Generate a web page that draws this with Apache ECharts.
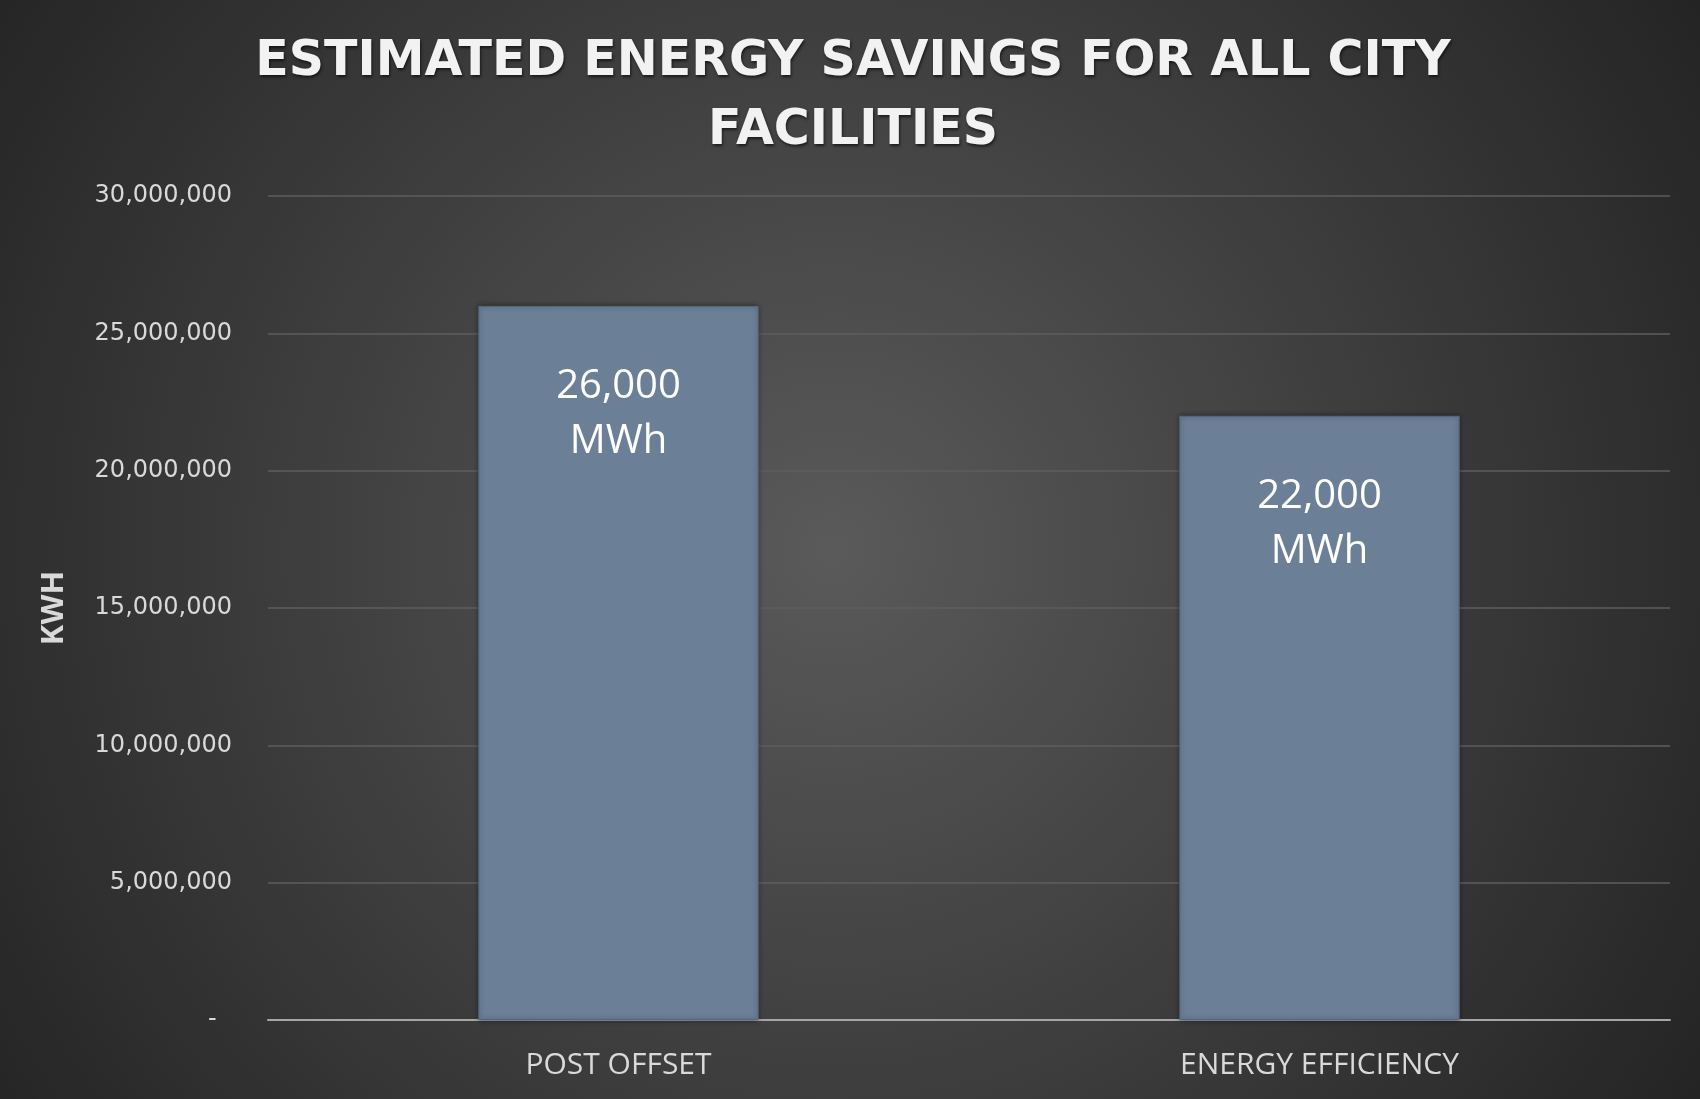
<!DOCTYPE html>
<html>
<head>
<meta charset="utf-8">
<script src="https://cdn.jsdelivr.net/npm/echarts@6/dist/echarts.min.js"></script>
<style>
  html, body { margin: 0; padding: 0; background: #2a2a2a; }
  #chart { width: 1700px; height: 1099px; }
</style>
</head>
<body>
<div id="chart"></div>
<script>
// Annual savings, in kWh
const categories = ['POST OFFSET', 'ENERGY EFFICIENCY'];
const savingsKwh = [26000000, 22000000];
const yTicks = { min: 0, max: 30000000, interval: 5000000 };

const chart = echarts.init(document.getElementById('chart'), null, { renderer: 'canvas' });

// zero is shown as a dash, accounting style
const fmtTick = v => (v === 0 ? '-  ' : v.toLocaleString('en-US'));
const fmtBar = v => (v / 1000).toLocaleString('en-US') + '\nMWh';

chart.setOption({
  animation: false,
  backgroundColor: {
    type: 'radial', x: 0.49, y: 0.5, r: 0.95,
    colorStops: [
      { offset: 0, color: '#5a5a5a' },
      { offset: 1, color: '#232323' }
    ]
  },
  title: {
    text: 'ESTIMATED ENERGY SAVINGS FOR ALL CITY\nFACILITIES',
    left: 848, top: 23, textAlign: 'center',
    textStyle: {
      fontFamily: 'DejaVu Sans', fontWeight: 'bold', fontSize: 49,
      color: '#f2f2f2', lineHeight: 69,
      textShadowColor: 'rgba(0,0,0,0.6)', textShadowBlur: 3, textShadowOffsetX: 1, textShadowOffsetY: 2
    }
  },
  grid: { left: 268, right: 30, top: 196, bottom: 79, containLabel: false },
  xAxis: {
    type: 'category',
    data: categories,
    axisLine: { show: true, lineStyle: { color: '#a6a6a6', width: 2 } },
    axisTick: { show: false },
    axisLabel: { color: '#d9d9d9', fontFamily: 'Open Sans', fontSize: 30, margin: 30 }
  },
  yAxis: {
    type: 'value',
    min: yTicks.min, max: yTicks.max, interval: yTicks.interval,
    name: 'KWH',
    nameLocation: 'middle',
    nameGap: 198,
    nameRotate: 90,
    nameTextStyle: { color: '#d9d9d9', fontFamily: 'Open Sans', fontWeight: 'bold', fontSize: 31 },
    axisLine: { show: false },
    axisTick: { show: false },
    axisLabel: { color: '#d9d9d9', fontFamily: 'DejaVu Sans', fontSize: 24, margin: 36, formatter: fmtTick, padding: [6, 0, 0, 0] },
    splitLine: { lineStyle: { color: '#5e5e5e', width: 1.5 } }
  },
  series: [{
    type: 'bar',
    data: savingsKwh,
    barWidth: '40%',
    itemStyle: {
      color: '#6b7f97',
      borderColor: '#56667a', borderWidth: 1,
      shadowColor: 'rgba(0,0,0,0.45)', shadowBlur: 5
    },
    label: {
      show: true,
      position: 'insideTop',
      distance: 53,
      formatter: p => fmtBar(p.value),
      color: '#ffffff',
      fontFamily: 'Open Sans',
      fontSize: 40,
      lineHeight: 55
    }
  }]
});
</script>
</body>
</html>
